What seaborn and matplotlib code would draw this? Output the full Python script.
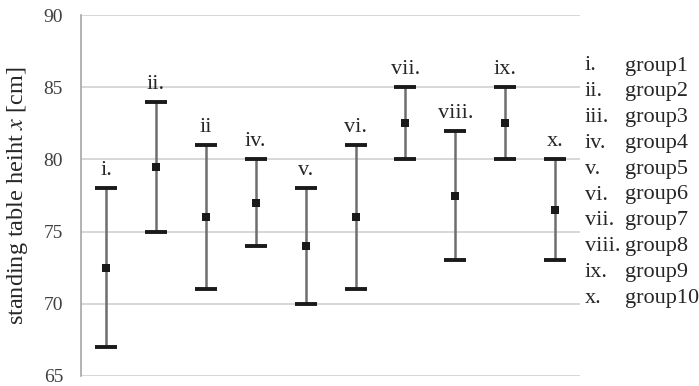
import numpy as np
import pandas as pd
import matplotlib
matplotlib.use("Agg")
import matplotlib.pyplot as plt
import seaborn as sns

groups = ['group1', 'group2', 'group3', 'group4', 'group5',
          'group6', 'group7', 'group8', 'group9', 'group10']
numerals = ['i.', 'ii.', 'iii.', 'iv.', 'v.', 'vi.', 'vii.', 'viii.', 'ix.', 'x.']
bar_labels = ['i.', 'ii.', 'ii', 'iv.', 'v.', 'vi.', 'vii.', 'viii.', 'ix.', 'x.']
means = [72.5, 79.5, 76.0, 77.0, 74.0, 76.0, 82.5, 77.5, 82.5, 76.5]
lows = [67, 75, 71, 74, 70, 71, 80, 73, 80, 73]
highs = [78, 84, 81, 80, 78, 81, 85, 82, 85, 80]

data = pd.DataFrame({'group': groups, 'mean': means, 'low': lows, 'high': highs})
data['pos'] = np.arange(1, len(groups) + 1)

sns.set_style("whitegrid")
plt.rcParams['font.family'] = ['Liberation Serif', 'DejaVu Serif']
plt.rcParams['mathtext.fontset'] = 'stix'

fig = plt.figure(figsize=(6.99, 3.86), dpi=100)
ax = fig.add_axes([0.116, 0.026, 0.714, 0.935])

###############################################
# ERROR BARS
###############################################
yerr = [data['mean'] - data['low'], data['high'] - data['mean']]
eb = ax.errorbar(data['pos'], data['mean'], yerr=yerr, fmt='none',
                 ecolor='#6e6e6e', elinewidth=1.8, capsize=8, capthick=2.8, zorder=3)
for cap in eb[1]:
    cap.set_color('#1a1a1a')
    cap.set_markeredgecolor('#1a1a1a')

sns.scatterplot(data=data, x='pos', y='mean', marker='s', s=40, color='#1a1a1a',
                edgecolor='#1a1a1a', linewidth=0, zorder=4, ax=ax)

for x, y, lab in zip(data['pos'], data['high'], bar_labels):
    ax.text(x, y + 0.55, lab, ha='center', va='bottom', fontsize=16, color='#262626')

ax.set_xlim(0.5, 10.5)
ax.set_ylim(65, 90)
ax.set_yticks([65, 70, 75, 80, 85, 90])
ax.set_xticks([])
ax.set_xlabel('')
ax.set_ylabel('standing table heiht $x$ [cm]', fontsize=17.5, color='#262626', labelpad=10)
ax.tick_params(axis='y', labelsize=14, colors='#404040', length=0, pad=13)
ax.grid(axis='y', color='#d4d4d4', linewidth=1.3)
ax.grid(axis='x', visible=False)
for s in ['top', 'right', 'bottom']:
    ax.spines[s].set_visible(False)
ax.spines['left'].set_color('#a6a6a6')
ax.spines['left'].set_linewidth(1.2)

###############################################
# LEGEND TEXT
###############################################
for i, (num, g) in enumerate(zip(numerals, groups)):
    yy = 1 - (66 + i * 25.8) / 386
    fig.text(585 / 699, yy, num, ha='left', va='center', fontsize=16, color='#262626')
    fig.text(625 / 699, yy, g, ha='left', va='center', fontsize=16, color='#262626')

plt.savefig('out.png', dpi=100, facecolor='white')
